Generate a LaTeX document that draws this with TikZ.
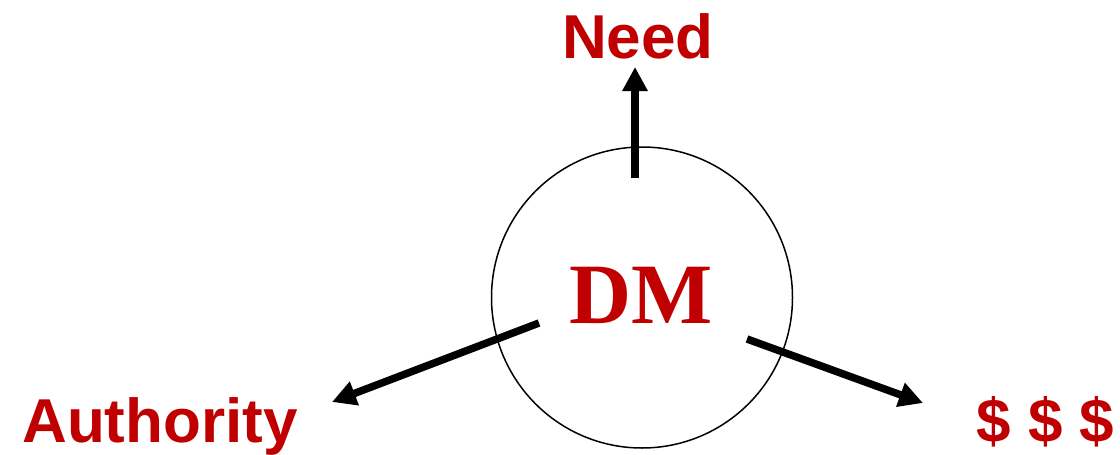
\documentclass[tikz,border=0pt]{standalone}
\usepackage{fontspec}
\setmainfont{Liberation Serif}
\setsansfont{Liberation Sans}
\usetikzlibrary{arrows.meta}
\definecolor{dmred}{RGB}{192,0,0}
\begin{document}
\begin{tikzpicture}[x=1pt,y=-1pt,
  lbl/.style={font=\sffamily\bfseries\fontsize{62}{62}\selectfont, text=dmred, inner sep=0pt, anchor=base},
  dmlbl/.style={font=\rmfamily\bfseries\fontsize{86}{86}\selectfont, text=dmred, inner sep=0pt, anchor=base},
  ring/.style={circle, draw=black, line width=1.5pt, minimum size=301pt, inner sep=0pt},
  bigarrow/.style={line width=7.5pt, -{Triangle[length=24pt,width=24pt]}}]
\useasboundingbox (0,0) rectangle (1120,455);
\node[ring] (circ) at (642,297.5) {};
\node[dmlbl] (dm) at (641.5,323) {DM};
\node[lbl] (need) at (638,58) {Need};
\node[lbl] (auth) at (160,442) {Authority};
\node[lbl] (money) at (1045.5,442) {\$ \$ \$};
\coordinate (needS) at (635,178);
\coordinate (needE) at (635,67);
\coordinate (authS) at (539,323);
\coordinate (authE) at (332,402);
\coordinate (monS) at (747,339);
\coordinate (monE) at (923,403);
\draw[bigarrow] (needS) -- (needE);
\draw[bigarrow] (authS) -- (authE);
\draw[bigarrow] (monS) -- (monE);
\end{tikzpicture}
\end{document}
